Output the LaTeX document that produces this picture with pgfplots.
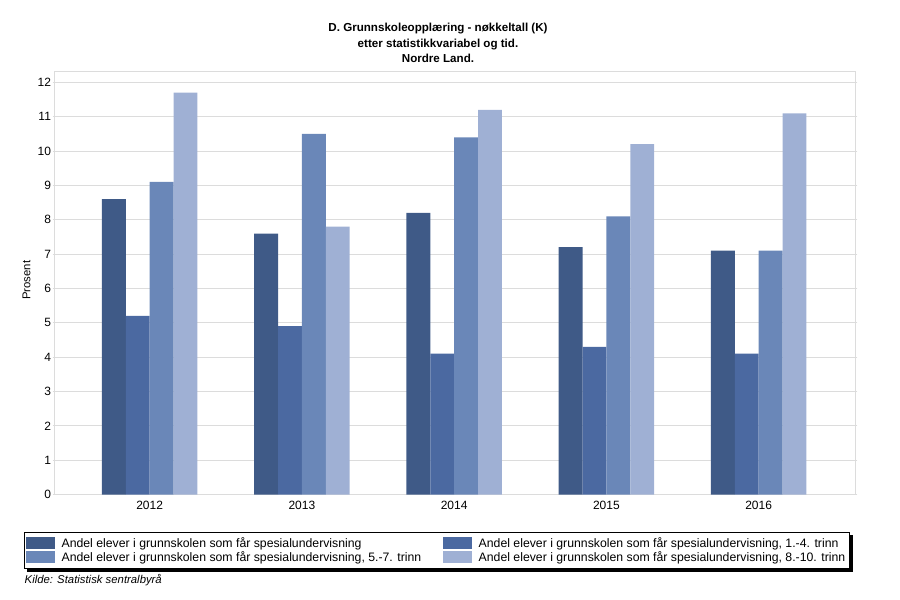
\documentclass[border=0pt]{standalone}
\usepackage{fontspec}
\setmainfont{Liberation Sans}
\usepackage{pgfplots}
\pgfplotsset{compat=1.18}
\definecolor{c1}{HTML}{3F5A87}
\definecolor{c2}{HTML}{4B69A1}
\definecolor{c3}{HTML}{6A87B8}
\definecolor{c4}{HTML}{9FB0D4}
\definecolor{gridc}{HTML}{DCDCDC}
\pgfplotsset{swatch/.style={legend image code/.code={\fill[##1] (0pt,-4.5pt) rectangle (21.75pt,4.5pt); \path (25pt,0pt);}}}
\begin{document}
\begin{tikzpicture}
\path[use as bounding box] (0,0) rectangle (675pt,450pt);
\node[align=center, font=\fontsize{8.7}{11.6}\selectfont\bfseries] at (328.5pt,417.75pt)
 {D. Grunnskoleopplæring - nøkkeltall (K)\\etter statistikkvariabel og tid.\\Nordre Land.};
\node[anchor=west, font=\fontsize{8.5}{10}\selectfont\itshape] at (15pt,15pt) {Kilde: Statistisk sentralbyrå};
\begin{axis}[
 at={(41pt,79.1pt)}, anchor=south west,
 width=600.5pt, height=317.1pt, scale only axis,
 ymin=0, ymax=12.31, xmin=-0.624, xmax=4.635,
 ybar=0pt, bar width=0.1567,
 xtick={0,1,2,3,4}, xticklabels={2012,2013,2014,2015,2016},
 ytick={0,1,...,12},
 ymajorgrids, grid style={gridc, line width=0.75pt},
 axis line style={gridc, line width=0.75pt},
 xtick style={draw=none},
 ytick style={gridc, line width=0.75pt},
 tick align=outside, major tick length=1.5pt,
 ticklabel style={font=\fontsize{9}{10}\selectfont},
 yticklabel style={xshift=2.25pt},
 /pgf/number format/assume math mode=true,
 ylabel={Prosent},
 ylabel style={at={(axis description cs:-0.035,0.507)}, anchor=center, font=\fontsize{8.5}{10}\selectfont},
 legend columns=2,
 legend cell align=left,
 legend style={at={(axis description cs:-0.0385,-0.088)}, anchor=north west,
   name=leg,
   draw=black, line width=0.6pt, fill=white,
   font=\fontsize{9.2}{10}\selectfont,
   inner xsep=1pt, inner ysep=3.2pt,
   /tikz/nodes={inner ysep=0.75pt},
   /tikz/column 2/.style={column sep=14pt}},
]
\addplot[draw=none, fill=c1, swatch] coordinates {(0,8.6) (1,7.6) (2,8.2) (3,7.2) (4,7.1)};
\addplot[draw=none, fill=c2, swatch] coordinates {(0,5.2) (1,4.9) (2,4.1) (3,4.3) (4,4.1)};
\addplot[draw=none, fill=c3, swatch] coordinates {(0,9.1) (1,10.5) (2,10.4) (3,8.1) (4,7.1)};
\addplot[draw=none, fill=c4, swatch] coordinates {(0,11.7) (1,7.8) (2,11.2) (3,10.2) (4,11.1)};
\legend{Andel elever i grunnskolen som får spesialundervisning,
 {Andel elever i grunnskolen som får spesialundervisning, 1.-4. trinn},
 {Andel elever i grunnskolen som får spesialundervisning, 5.-7. trinn},
 {Andel elever i grunnskolen som får spesialundervisning, 8.-10. trinn}}
\end{axis}
\fill[black] ([shift={(0.3pt,-2.5pt)}]leg.north east) rectangle ([shift={(2.5pt,-2.5pt)}]leg.south east);
\fill[black] ([shift={(2.5pt,-0.3pt)}]leg.south west) rectangle ([shift={(2.5pt,-2.5pt)}]leg.south east);
\end{tikzpicture}
\end{document}
